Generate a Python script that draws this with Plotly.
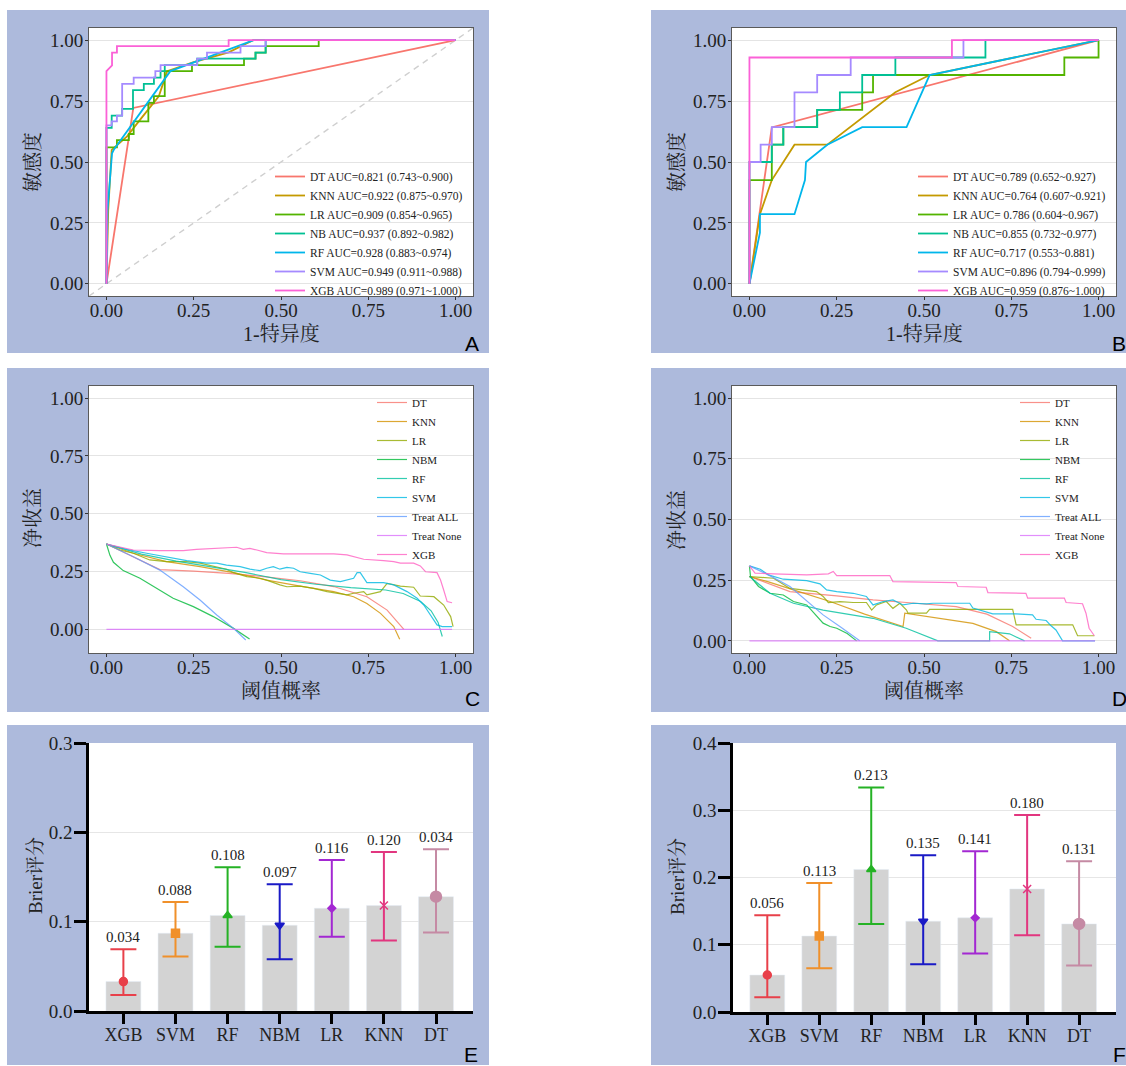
import plotly.graph_objects as go

W, H = 1126, 1066
SERIF = "Liberation Serif, Times New Roman, Noto Serif CJK SC, Noto Sans CJK SC, serif"
SANS = "Liberation Sans, Arial, sans-serif"
PANEL_BG = "#adbadc"

# ---------------- data: ROC (panel A) ----------------
roc_models = ["DT", "KNN", "LR", "NB", "RF", "SVM", "XGB"]
roc_colors = ["#F8766D", "#C49A00", "#53B400", "#00C094", "#00B6EB", "#A58AFF", "#FB61D7"]
A_labels = ["DT AUC=0.821 (0.743~0.900)", "KNN AUC=0.922 (0.875~0.970)", "LR AUC=0.909 (0.854~0.965)",
            "NB AUC=0.937 (0.892~0.982)", "RF AUC=0.928 (0.883~0.974)", "SVM AUC=0.949 (0.911~0.988)",
            "XGB AUC=0.989 (0.971~1.000)"]
B_labels = ["DT AUC=0.789 (0.652~0.927)", "KNN AUC=0.764 (0.607~0.921)", "LR AUC= 0.786 (0.604~0.967)",
            "NB AUC=0.855 (0.732~0.977)", "RF AUC=0.717 (0.553~0.881)", "SVM AUC=0.896 (0.794~0.999)",
            "XGB AUC=0.959 (0.876~1.000)"]

A_DT_x = [0, 0.077, 1]
A_DT_y = [0, 0.722, 1]
A_KNN_x = [0, 0.005, 0.015, 0.059, 0.1, 0.15, 0.174, 0.25, 0.35, 0.42, 1]
A_KNN_y = [0, 0.30, 0.55, 0.605, 0.68, 0.77, 0.873, 0.91, 0.95, 1, 1]
A_LR_x = [0, 0, 0.03, 0.03, 0.064, 0.064, 0.078, 0.078, 0.12, 0.12, 0.136, 0.136, 0.167, 0.167, 0.245, 0.245,
          0.394, 0.394, 0.427, 0.427, 0.456, 0.456, 0.608, 0.608, 1]
A_LR_y = [0, 0.56, 0.56, 0.59, 0.59, 0.615, 0.615, 0.667, 0.667, 0.743, 0.743, 0.77, 0.77, 0.873, 0.873, 0.898,
          0.898, 0.924, 0.924, 0.949, 0.949, 0.976, 0.976, 1, 1]
A_NB_x = [0, 0, 0.015, 0.015, 0.045, 0.045, 0.076, 0.076, 0.107, 0.107, 0.136, 0.136, 0.155, 0.155, 0.167, 0.167,
          0.26, 0.26, 0.427, 0.427, 0.456, 0.456, 1]
A_NB_y = [0, 0.64, 0.64, 0.69, 0.69, 0.718, 0.718, 0.795, 0.795, 0.821, 0.821, 0.846, 0.846, 0.873, 0.873, 0.898,
          0.898, 0.924, 0.924, 0.949, 0.949, 1, 1]
A_RF_x = [0, 0.003, 0.016, 0.021, 0.183, 0.422, 1]
A_RF_y = [0, 0.30, 0.536, 0.55, 0.873, 1, 1]
A_SVM_x = [0, 0, 0.015, 0.015, 0.03, 0.03, 0.045, 0.045, 0.078, 0.078, 0.14, 0.14, 0.155, 0.155, 0.26, 0.26,
           0.288, 0.288, 0.384, 0.384, 0.456, 0.456, 1]
A_SVM_y = [0, 0.65, 0.65, 0.667, 0.667, 0.69, 0.69, 0.821, 0.821, 0.846, 0.846, 0.873, 0.873, 0.898, 0.898, 0.924,
           0.924, 0.949, 0.949, 0.976, 0.976, 1, 1]
A_XGB_x = [0, 0, 0.016, 0.016, 0.03, 0.03, 0.35, 0.35, 1]
A_XGB_y = [0, 0.873, 0.897, 0.949, 0.949, 0.976, 0.976, 1, 1]
A_diag = [-0.05, 1.05]

# ---------------- data: ROC (panel B) ----------------
B_DT_x = [0, 0.064, 1]
B_DT_y = [0, 0.642, 1]
B_KNN_x = [0, 0.03, 0.064, 0.129, 0.223, 0.418, 0.516, 1]
B_KNN_y = [0, 0.286, 0.426, 0.571, 0.571, 0.786, 0.857, 1]
B_LR_x = [0, 0, 0.064, 0.064, 0.097, 0.097, 0.194, 0.194, 0.323, 0.323, 0.354, 0.354, 0.902, 0.902, 1, 1]
B_LR_y = [0, 0.426, 0.426, 0.571, 0.571, 0.643, 0.643, 0.714, 0.714, 0.786, 0.786, 0.857, 0.857, 0.929, 0.929, 1]
B_NB_x = [0, 0, 0.064, 0.064, 0.097, 0.097, 0.194, 0.194, 0.259, 0.259, 0.323, 0.323, 0.418, 0.418, 0.676, 0.676, 1]
B_NB_y = [0, 0.5, 0.5, 0.571, 0.571, 0.643, 0.643, 0.714, 0.714, 0.786, 0.786, 0.857, 0.857, 0.929, 0.929, 1, 1]
B_RF_x = [0, 0.03, 0.03, 0.129, 0.159, 0.162, 0.223, 0.323, 0.45, 0.516, 1]
B_RF_y = [0, 0.21, 0.286, 0.286, 0.426, 0.5, 0.571, 0.643, 0.643, 0.857, 1]
B_SVM_x = [0, 0, 0.032, 0.032, 0.064, 0.064, 0.129, 0.129, 0.194, 0.194, 0.29, 0.29, 0.613, 0.613, 1]
B_SVM_y = [0, 0.5, 0.5, 0.571, 0.571, 0.643, 0.643, 0.786, 0.786, 0.857, 0.857, 0.929, 0.929, 1, 1]
B_XGB_x = [0, 0, 0.58, 0.58, 1]
B_XGB_y = [0, 0.929, 0.929, 1, 1]

# ---------------- data: DCA (panel C) ----------------
dca_names = ["DT", "KNN", "LR", "NBM", "RF", "SVM", "Treat ALL", "Treat None", "XGB"]
dca_colors = ["#F8766D", "#D39200", "#93AA00", "#00BA38", "#00C19F", "#00B9E3", "#619CFF", "#DB72FB", "#FF61C3"]

C_DT_x = [0, 0.153, 0.25, 0.35, 0.45, 0.555, 0.651, 0.746, 0.804, 0.852]
C_DT_y = [0.369, 0.258, 0.252, 0.242, 0.228, 0.21, 0.185, 0.141, 0.083, 0.0]
C_KNN_x = [0, 0.077, 0.172, 0.268, 0.364, 0.459, 0.555, 0.651, 0.708, 0.746, 0.785, 0.823, 0.84]
C_KNN_y = [0.369, 0.329, 0.293, 0.271, 0.245, 0.213, 0.187, 0.163, 0.141, 0.112, 0.069, 0.012, -0.043]
C_LR_x = [0, 0.038, 0.077, 0.124, 0.172, 0.230, 0.268, 0.316, 0.344, 0.364, 0.402, 0.440, 0.459, 0.497, 0.517,
          0.555, 0.593, 0.632, 0.660, 0.689, 0.708, 0.737, 0.746, 0.785, 0.804, 0.842, 0.880, 0.899, 0.938, 0.966,
          0.986, 0.993]
C_LR_y = [0.369, 0.343, 0.329, 0.300, 0.293, 0.293, 0.286, 0.271, 0.260, 0.245, 0.228, 0.221, 0.213, 0.192, 0.184,
          0.187, 0.177, 0.163, 0.156, 0.149, 0.156, 0.163, 0.149, 0.163, 0.199, 0.187, 0.182, 0.144, 0.141, 0.105,
          0.055, 0.012]
C_NBM_x = [0, 0.01, 0.02, 0.048, 0.096, 0.144, 0.191, 0.249, 0.306, 0.364, 0.41]
C_NBM_y = [0.369, 0.32, 0.29, 0.254, 0.221, 0.177, 0.134, 0.098, 0.055, 0.004, -0.042]
C_RF_x = [0, 0.1, 0.2, 0.3, 0.4, 0.5, 0.6, 0.7, 0.8, 0.85, 0.9, 0.93, 0.95, 0.962]
C_RF_y = [0.369, 0.325, 0.295, 0.27, 0.245, 0.215, 0.195, 0.18, 0.17, 0.155, 0.12, 0.08, 0.03, -0.031]
C_SVM_x = [0, 0.058, 0.115, 0.172, 0.230, 0.287, 0.316, 0.344, 0.383, 0.411, 0.440, 0.459, 0.478, 0.497, 0.517,
           0.536, 0.555, 0.584, 0.613, 0.641, 0.670, 0.708, 0.718, 0.727, 0.742, 0.746, 0.794, 0.823, 0.861, 0.890,
           0.909, 0.928, 0.947, 0.962, 0.99]
C_SVM_y = [0.369, 0.346, 0.329, 0.314, 0.297, 0.286, 0.286, 0.278, 0.271, 0.260, 0.254, 0.264, 0.271, 0.260, 0.268,
           0.264, 0.249, 0.242, 0.235, 0.213, 0.206, 0.221, 0.245, 0.245, 0.213, 0.202, 0.202, 0.192, 0.163, 0.134,
           0.105, 0.062, 0.019, 0.012, 0.012]
C_TA_x = [0, 0.077, 0.153, 0.22, 0.268, 0.316, 0.364, 0.399]
C_TA_y = [0.369, 0.314, 0.256, 0.184, 0.127, 0.062, 0.004, -0.046]
C_TN_x = [0, 0.99]
C_TN_y = [0, 0]
C_XGB_x = [0, 0.077, 0.153, 0.22, 0.258, 0.297, 0.344, 0.373, 0.392, 0.411, 0.431, 0.459, 0.507, 0.555, 0.603,
           0.651, 0.689, 0.708, 0.737, 0.794, 0.823, 0.842, 0.88, 0.899, 0.914, 0.947, 0.957, 0.966, 0.976, 0.99]
C_XGB_y = [0.369, 0.343, 0.340, 0.340, 0.346, 0.350, 0.355, 0.355, 0.346, 0.350, 0.343, 0.332, 0.326, 0.326, 0.326,
           0.326, 0.322, 0.314, 0.303, 0.297, 0.293, 0.286, 0.286, 0.274, 0.249, 0.245, 0.213, 0.170, 0.120, 0.115]

# ---------------- data: DCA (panel D) ----------------
D_DT_x = [0, 0.116, 0.25, 0.354, 0.45, 0.592, 0.68, 0.754, 0.807]
D_DT_y = [0.265, 0.203, 0.185, 0.169, 0.158, 0.141, 0.11, 0.059, 0.011]
D_KNN_x = [0, 0.05, 0.126, 0.231, 0.33, 0.44, 0.445, 0.545, 0.64, 0.707, 0.745]
D_KNN_y = [0.265, 0.245, 0.21, 0.162, 0.11, 0.059, 0.114, 0.093, 0.072, 0.038, 0.0]
D_LR_x = [0, 0.069, 0.116, 0.192, 0.211, 0.226, 0.259, 0.297, 0.335, 0.350, 0.364, 0.392, 0.411, 0.431, 0.45,
          0.454, 0.507, 0.516, 0.754, 0.764, 0.926, 0.94, 0.988]
D_LR_y = [0.265, 0.258, 0.216, 0.203, 0.183, 0.158, 0.162, 0.158, 0.158, 0.127, 0.148, 0.162, 0.134, 0.155, 0.127,
          0.114, 0.114, 0.130, 0.130, 0.066, 0.066, 0.021, 0.021]
D_NBM_x = [0, 0.003, 0.026, 0.059, 0.097, 0.126, 0.164, 0.211, 0.231, 0.25, 0.28, 0.307]
D_NBM_y = [0.309, 0.265, 0.224, 0.196, 0.189, 0.162, 0.148, 0.073, 0.059, 0.052, 0.03, 0.0]
D_RF_x = [0, 0.059, 0.126, 0.211, 0.354, 0.449, 0.54, 0.688, 0.688, 0.745, 0.788]
D_RF_y = [0.265, 0.196, 0.155, 0.127, 0.093, 0.052, 0.0, 0.0, 0.038, 0.029, 0.0]
D_SVM_x = [0, 0.031, 0.054, 0.097, 0.164, 0.202, 0.221, 0.25, 0.297, 0.335, 0.354, 0.383, 0.411, 0.44, 0.469,
           0.507, 0.526, 0.631, 0.64, 0.697, 0.764, 0.811, 0.821, 0.85, 0.864, 0.878, 0.897, 0.99]
D_SVM_y = [0.309, 0.295, 0.272, 0.254, 0.248, 0.235, 0.210, 0.203, 0.196, 0.183, 0.148, 0.162, 0.169, 0.148, 0.155,
           0.152, 0.155, 0.155, 0.135, 0.111, 0.111, 0.107, 0.089, 0.084, 0.062, 0.045, 0.0, 0.0]
D_TA_x = [0, 0.05, 0.116, 0.16, 0.211, 0.26, 0.316]
D_TA_y = [0.309, 0.275, 0.224, 0.17, 0.107, 0.058, 0.0]
D_TN_x = [0, 0.99]
D_TN_y = [0, 0]
D_XGB_x = [0, 0.016, 0.069, 0.164, 0.226, 0.24, 0.25, 0.402, 0.411, 0.592, 0.597, 0.678, 0.683, 0.792, 0.797,
           0.902, 0.907, 0.954, 0.964, 0.973, 0.988]
D_XGB_y = [0.309, 0.279, 0.276, 0.272, 0.276, 0.286, 0.269, 0.269, 0.244, 0.240, 0.224, 0.221, 0.199, 0.196, 0.176,
           0.176, 0.158, 0.153, 0.114, 0.052, 0.021]

# ---------------- data: Brier (panels E, F) ----------------
brier_cats = ["XGB", "SVM", "RF", "NBM", "LR", "KNN", "DT"]
E_val = [0.033, 0.087, 0.107, 0.096, 0.115, 0.118, 0.128]
E_hi = [0.069, 0.122, 0.161, 0.142, 0.169, 0.178, 0.181]
E_lo = [0.018, 0.061, 0.072, 0.058, 0.083, 0.079, 0.088]
E_text = ["0.034", "0.088", "0.108", "0.097", "0.116", "0.120", "0.034"]
F_val = [0.055, 0.113, 0.212, 0.135, 0.140, 0.183, 0.131]
F_hi = [0.144, 0.192, 0.334, 0.233, 0.239, 0.293, 0.224]
F_lo = [0.022, 0.065, 0.131, 0.071, 0.087, 0.114, 0.069]
F_text = ["0.056", "0.113", "0.213", "0.135", "0.141", "0.180", "0.131"]
brier_colors = ["#e8404a", "#f0902a", "#25b225", "#1a1ac6", "#a328d2", "#e2367f", "#c58aa4"]
brier_symbols = ["circle", "square", "triangle-up", "triangle-down", "diamond", "x-thin-open", "circle"]
brier_msize = [8, 8, 8, 8, 6, 8, 11]

# ---------------- layout helpers (pixel geometry) ----------------
def px_x(a, b):
    return [a / W, b / W]

def px_y(top, bottom):
    return [1 - bottom / H, 1 - top / H]

panels = {  # blue panel rectangles: x0, y0, x1, y1
    "A": (7, 10, 489, 353), "B": (651, 10, 1126, 353),
    "C": (7, 368, 489, 712), "D": (651, 368, 1126, 712),
    "E": (7, 725, 489, 1065), "F": (651, 725, 1126, 1065),
}
plots = {  # white plotting areas: x0, y0, x1, y1
    "A": (89, 28, 473, 296), "B": (732, 28, 1116, 296),
    "C": (89, 386, 473, 653), "D": (732, 386, 1116, 653),
    "E": (89, 743, 473, 1011), "F": (733, 743, 1116, 1012),
}

fig = go.Figure()

# ---- ROC traces ----
A_xs = [A_DT_x, A_KNN_x, A_LR_x, A_NB_x, A_RF_x, A_SVM_x, A_XGB_x]
A_ys = [A_DT_y, A_KNN_y, A_LR_y, A_NB_y, A_RF_y, A_SVM_y, A_XGB_y]
B_xs = [B_DT_x, B_KNN_x, B_LR_x, B_NB_x, B_RF_x, B_SVM_x, B_XGB_x]
B_ys = [B_DT_y, B_KNN_y, B_LR_y, B_NB_y, B_RF_y, B_SVM_y, B_XGB_y]

fig.add_trace(go.Scatter(x=A_diag, y=A_diag, mode="lines", xaxis="x", yaxis="y", showlegend=False,
                         line=dict(color="#cfcfcf", width=1.4, dash="6px,5px"), hoverinfo="skip"))
for i in range(7):
    fig.add_trace(go.Scatter(x=A_xs[i], y=A_ys[i], mode="lines", name=A_labels[i], xaxis="x", yaxis="y",
                             line=dict(color=roc_colors[i], width=1.8), legend="legend"))
for i in range(7):
    fig.add_trace(go.Scatter(x=B_xs[i], y=B_ys[i], mode="lines", name=B_labels[i], xaxis="x2", yaxis="y2",
                             line=dict(color=roc_colors[i], width=1.8), legend="legend2"))

# ---- DCA traces ----
C_xs = [C_DT_x, C_KNN_x, C_LR_x, C_NBM_x, C_RF_x, C_SVM_x, C_TA_x, C_TN_x, C_XGB_x]
C_ys = [C_DT_y, C_KNN_y, C_LR_y, C_NBM_y, C_RF_y, C_SVM_y, C_TA_y, C_TN_y, C_XGB_y]
D_xs = [D_DT_x, D_KNN_x, D_LR_x, D_NBM_x, D_RF_x, D_SVM_x, D_TA_x, D_TN_x, D_XGB_x]
D_ys = [D_DT_y, D_KNN_y, D_LR_y, D_NBM_y, D_RF_y, D_SVM_y, D_TA_y, D_TN_y, D_XGB_y]
for i in range(9):
    fig.add_trace(go.Scatter(x=C_xs[i], y=C_ys[i], mode="lines", name=dca_names[i], xaxis="x3", yaxis="y3",
                             line=dict(color=dca_colors[i], width=1.2), opacity=0.8, legend="legend3"))
for i in range(9):
    fig.add_trace(go.Scatter(x=D_xs[i], y=D_ys[i], mode="lines", name=dca_names[i], xaxis="x4", yaxis="y4",
                             line=dict(color=dca_colors[i], width=1.2), opacity=0.8, legend="legend4"))

# ---- Brier bars ----
for (vals, his, los, ax, ay) in [(E_val, E_hi, E_lo, "x5", "y5"), (F_val, F_hi, F_lo, "x6", "y6")]:
    fig.add_trace(go.Bar(x=brier_cats, y=vals, xaxis=ax, yaxis=ay, marker_color="#d3d3d3", width=0.67,
                         showlegend=False))
    for i, c in enumerate(brier_cats):
        fig.add_trace(go.Scatter(
            x=[c], y=[vals[i]], mode="markers", xaxis=ax, yaxis=ay, showlegend=False,
            marker=dict(symbol=brier_symbols[i], size=brier_msize[i], color=brier_colors[i],
                        line=dict(color=brier_colors[i], width=1.5)),
            error_y=dict(type="data", symmetric=False, array=[his[i] - vals[i]], arrayminus=[vals[i] - los[i]],
                         color=brier_colors[i], thickness=2, width=13)))

# ---- shapes: panel backgrounds and white plot areas ----
shapes = []
for k, (x0, y0, x1, y1) in panels.items():
    shapes.append(dict(type="rect", xref="paper", yref="paper", x0=x0 / W, x1=x1 / W, y0=1 - y1 / H, y1=1 - y0 / H,
                       fillcolor=PANEL_BG, line=dict(width=0), layer="below"))
for k, (x0, y0, x1, y1) in plots.items():
    shapes.append(dict(type="rect", xref="paper", yref="paper", x0=x0 / W, x1=x1 / W, y0=1 - y1 / H, y1=1 - y0 / H,
                       fillcolor="white", line=dict(width=0), layer="below"))

# ---- axes ----
tickfont = dict(family=SERIF, size=19, color="#222222")

def ggaxis(dom, rng, anchor, grid, tv, standoff):
    return dict(domain=dom, range=rng, anchor=anchor, tickvals=tv, tickformat=".2f", ticks="outside", ticklen=3,
                tickcolor="#333333", showgrid=grid, gridcolor="#e4e4e4", gridwidth=1, zeroline=False,
                showline=True, linecolor="#5a5a5a", linewidth=1, mirror=True, tickfont=tickfont,
                automargin=False, ticklabelstandoff=standoff)

q = [0, 0.25, 0.5, 0.75, 1.0]
layout = dict(
    width=W, height=H, margin=dict(l=0, r=0, t=0, b=0, autoexpand=False),
    paper_bgcolor="white", plot_bgcolor="rgba(0,0,0,0)",
    shapes=shapes, bargap=0.33,
    xaxis=ggaxis(px_x(89, 473), [-0.05, 1.05], "y", False, q, -6),
    yaxis=ggaxis(px_y(28, 296), [-0.05, 1.05], "x", True, q, -2),
    xaxis2=ggaxis(px_x(732, 1116), [-0.05, 1.05], "y2", False, q, -6),
    yaxis2=ggaxis(px_y(28, 296), [-0.05, 1.05], "x2", True, q, -2),
    xaxis3=ggaxis(px_x(89, 473), [-0.05, 1.05], "y3", False, q, -6),
    yaxis3=ggaxis(px_y(386, 653), [-0.1025, 1.0525], "x3", True, q, -2),
    xaxis4=ggaxis(px_x(732, 1116), [-0.05, 1.05], "y4", False, q, -6),
    yaxis4=ggaxis(px_y(386, 653), [-0.05, 1.05], "x4", True, q, -2),
)

def baraxes(dx, dy, anchor_x, anchor_y, ymax):
    xa = dict(domain=dx, anchor=anchor_y, type="category", range=[-0.66, 6.71], ticks="outside", ticklen=10,
              tickwidth=2.5, tickcolor="black", showline=True, linecolor="black", linewidth=2.5, showgrid=False,
              zeroline=False, tickfont=dict(family=SERIF, size=18, color="#222222"), automargin=False,
              ticklabelstandoff=-4)
    ya = dict(domain=dy, anchor=anchor_x, range=[0, ymax], dtick=0.1, tick0=0, tickformat=".1f", ticks="outside",
              ticklen=12, tickwidth=2.5, tickcolor="black", showline=True, linecolor="black", linewidth=2.5,
              showgrid=True, gridcolor="#e6e6e6", zeroline=False,
              tickfont=dict(family=SERIF, size=19, color="#222222"), automargin=False, ticklabelstandoff=-2)
    return xa, ya

layout["xaxis5"], layout["yaxis5"] = baraxes(px_x(89, 473), px_y(743, 1011), "x5", "y5", 0.3)
layout["xaxis6"], layout["yaxis6"] = baraxes(px_x(733, 1116), px_y(743, 1012), "x6", "y6", 0.4)

# ---- legends ----
def leg(xpx, ytop, size):
    return dict(x=xpx / W, y=1 - ytop / H, xanchor="left", yanchor="top", bgcolor="rgba(0,0,0,0)",
                font=dict(family=SERIF, size=size, color="#222222"), itemwidth=30, traceorder="normal")

layout["legend"] = leg(270, 162, 11.5)
layout["legend2"] = leg(270 + 643, 162, 11.5)
layout["legend3"] = leg(372, 388, 11)
layout["legend4"] = leg(1015, 388, 11)

# ---- annotations: axis titles, panel letters, value labels ----
ann = []

def text_at(xpx, ypx, txt, size, family=SERIF, angle=0, color="#222222"):
    ann.append(dict(x=xpx / W, y=1 - ypx / H, xref="paper", yref="paper", text=txt, showarrow=False,
                    xanchor="center", yanchor="middle", textangle=angle,
                    font=dict(family=family, size=size, color=color)))

text_at(281, 334, "1-特异度", 20)
text_at(924, 334, "1-特异度", 20)
text_at(33, 162, "敏感度", 20, angle=-90)
text_at(677, 162, "敏感度", 20, angle=-90)
text_at(281, 691, "阈值概率", 20)
text_at(924, 691, "阈值概率", 20)
text_at(33, 518, "净收益", 20, angle=-90)
text_at(677, 520, "净收益", 20, angle=-90)
text_at(35, 876, "Brier评分", 19, angle=-90)
text_at(677, 877, "Brier评分", 19, angle=-90)
for L, (xx, yy) in {"A": (472, 343), "B": (1119, 343), "C": (472, 698), "D": (1119, 698),
                    "E": (471, 1054), "F": (1119, 1054)}.items():
    text_at(xx, yy, L, 21, family=SANS, color="black")

for (his, texts, ax, ay) in [(E_hi, E_text, "x5", "y5"), (F_hi, F_text, "x6", "y6")]:
    for i, c in enumerate(brier_cats):
        ann.append(dict(x=c, y=his[i], xref=ax, yref=ay, text=texts[i], showarrow=False, yanchor="bottom",
                        yshift=2, font=dict(family=SERIF, size=15, color="#222222")))

layout["annotations"] = ann
fig.update_layout(**layout)
fig.write_html("out.html", config={"displayModeBar": False},
               post_script="document.body.style.margin='0';document.body.style.overflow='hidden';")
